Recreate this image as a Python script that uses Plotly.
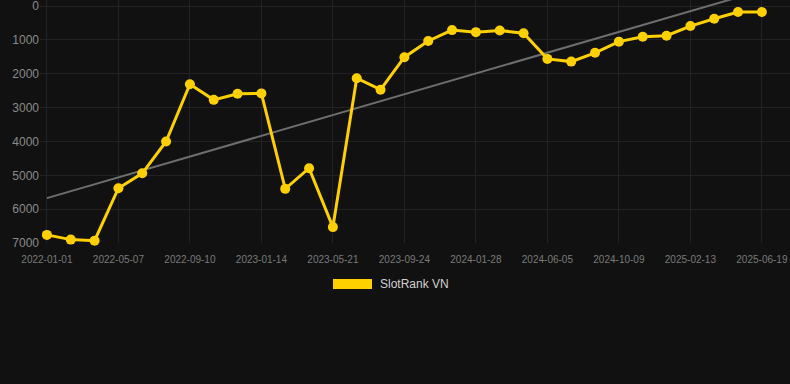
import numpy as np
import plotly.graph_objects as go

dates = [
    "2022-01-01", "2022-02-12", "2022-03-26", "2022-05-07", "2022-06-18", "2022-07-30",
    "2022-09-10", "2022-10-22", "2022-12-03", "2023-01-14", "2023-02-25", "2023-04-08",
    "2023-05-21", "2023-07-02", "2023-08-13", "2023-09-24", "2023-11-05", "2023-12-17",
    "2024-01-28", "2024-03-10", "2024-04-21", "2024-06-05", "2024-07-17", "2024-08-28",
    "2024-10-09", "2024-11-20", "2025-01-01", "2025-02-13", "2025-03-27", "2025-05-08",
    "2025-06-19",
]
rank = [
    6760, 6900, 6930, 5380, 4940, 4000,
    2310, 2770, 2590, 2580, 5400, 4790,
    6530, 2130, 2470, 1510, 1030, 710,
    770, 720, 800, 1560, 1640, 1380,
    1050, 905, 875, 590, 375, 177,
    177,
]
tick_dates = dates[::3]
y_ticks = [0, 1000, 2000, 3000, 4000, 5000, 6000, 7000]
series_name = "SlotRank VN"

idx = np.arange(len(rank))
slope, intercept = np.polyfit(idx, rank, 1)
trend = slope * idx + intercept

fig = go.Figure()
fig.add_trace(go.Scatter(
    x=dates, y=trend, mode="lines",
    line=dict(color="#6e6e6e", width=2),
    hoverinfo="skip", showlegend=False,
))
fig.add_trace(go.Scatter(
    x=dates, y=rank, mode="lines+markers", name=series_name,
    line=dict(color="#FFD000", width=3),
    marker=dict(color="#FFD000", size=10),
    cliponaxis=False,
    showlegend=False,
))

# legend drawn manually (filled rectangle + label)
fig.add_shape(type="rect", xref="paper", yref="paper",
              x0=(333 - 40) / 750, x1=(372 - 40) / 750,
              y0=(243 - 289) / 243, y1=(243 - 279) / 243,
              fillcolor="#FFD000", line=dict(width=0))
fig.add_annotation(xref="paper", yref="paper",
                   x=(378 - 40) / 750, y=(243 - 284) / 243,
                   text=series_name, showarrow=False,
                   xanchor="left", yanchor="middle",
                   font=dict(size=12, color="#d0d0d0", family="Liberation Sans, Arial, sans-serif"))

fig.update_layout(
    width=790, height=384,
    paper_bgcolor="#111111", plot_bgcolor="#111111",
    margin=dict(l=40, r=0, t=0, b=141),
    font=dict(family="Liberation Sans, Arial, sans-serif"),
    showlegend=False,
    xaxis=dict(
        type="category",
        range=[-0.29, 31.18],
        tickmode="array", tickvals=tick_dates, ticktext=tick_dates,
        tickfont=dict(size=10, color="#7a7a7a"),
        ticklabelstandoff=9,
        showgrid=True, gridcolor="#222222", gridwidth=1,
        zeroline=False, showline=False, ticks="",
    ),
    yaxis=dict(
        range=[7000, -180],
        tickmode="array", tickvals=y_ticks,
        tickfont=dict(size=12, color="#8a8a8a"),
        ticklabeloverflow="allow",
        showgrid=True, gridcolor="#222222", gridwidth=1,
        zeroline=False, showline=False, ticks="",
    ),
)

fig.write_html(
    "out.html",
    config={"displayModeBar": False},
    post_script="document.body.style.margin='0';document.body.style.background='#111111';",
)
